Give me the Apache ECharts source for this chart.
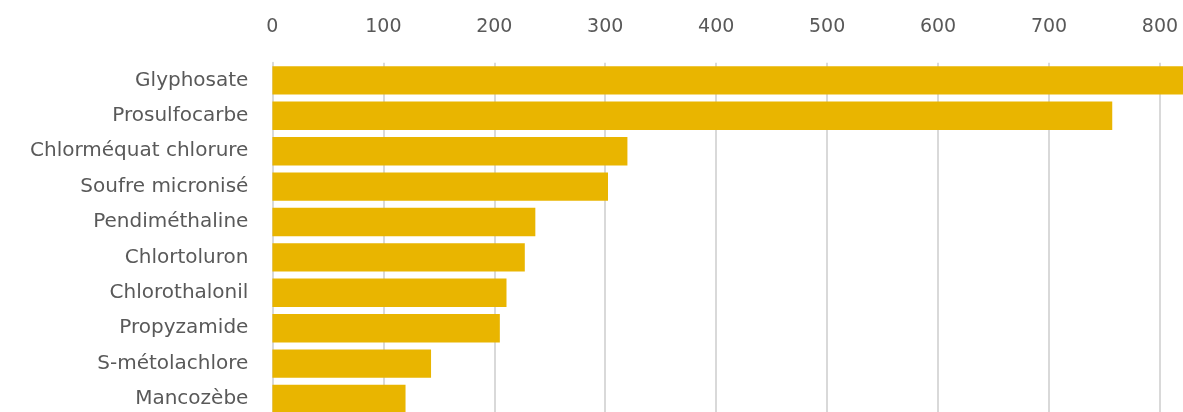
<!DOCTYPE html>
<html>
<head>
<meta charset="utf-8">
<script src="https://cdn.jsdelivr.net/npm/echarts@6/dist/echarts.min.js"></script>
<style>html,body{margin:0;padding:0;background:#fff;}#c{width:1183px;height:412px;}</style>
</head>
<body>
<div id="c"></div>
<script>
const categories = ["Glyphosate","Prosulfocarbe","Chlorméquat chlorure","Soufre micronisé","Pendiméthaline","Chlortoluron","Chlorothalonil","Propyzamide","S-métolachlore","Mancozèbe"];
const values = [850, 757, 320, 302.5, 237, 227.5, 211, 205, 143, 120];
const tickMax = 900;
const tickInterval = 100;

const chart = echarts.init(document.getElementById('c'), null, {renderer: 'canvas'});
const font = '"DejaVu Sans", sans-serif';
chart.setOption({
  animation: false,
  grid: {left: 272.4, top: 62.7, width: 998.5, height: 354, containLabel: false, outerBoundsMode: 'none'},
  xAxis: {
    type: 'value', position: 'top', min: 0, max: tickMax, interval: tickInterval,
    axisLine: {show: false}, axisTick: {show: false},
    axisLabel: {color: '#595959', fontSize: 19, fontFamily: font, margin: 26},
    splitLine: {show: true, lineStyle: {color: '#d9d9d9', width: 2}}
  },
  yAxis: {
    type: 'category', data: categories, inverse: true,
    axisLine: {show: true, lineStyle: {color: '#d9d9d9', width: 2}},
    axisTick: {show: false},
    axisLabel: {color: '#595959', fontSize: 20, fontFamily: font, margin: 24}
  },
  series: [{
    type: 'bar', data: values, barWidth: 28.4,
    itemStyle: {color: '#E9B500'}
  }]
});
</script>
</body>
</html>
